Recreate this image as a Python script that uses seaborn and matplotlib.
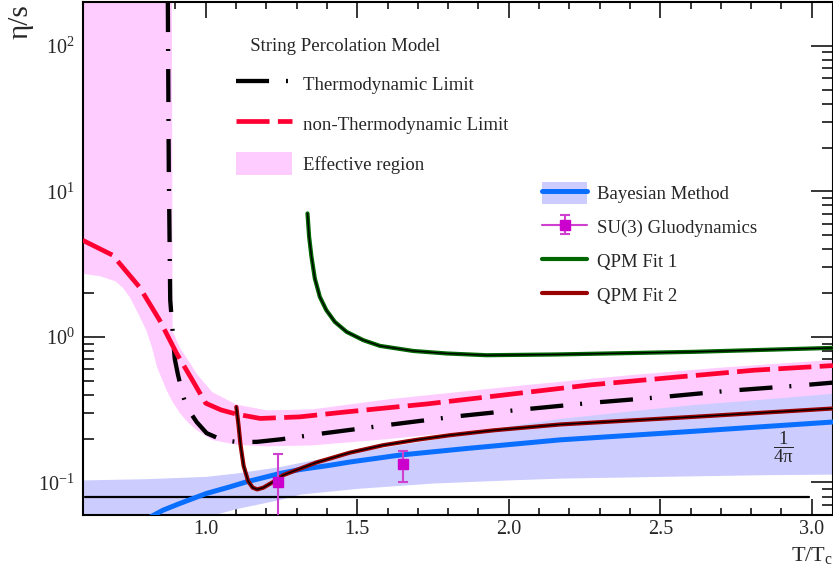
import numpy as np
import pandas as pd
import matplotlib
matplotlib.use('Agg')
import matplotlib.pyplot as plt
import seaborn as sns
from matplotlib.lines import Line2D
from matplotlib.patches import Patch
from matplotlib.ticker import MultipleLocator, FormatStrFormatter, LogLocator, NullFormatter
from matplotlib.legend_handler import HandlerTuple

# ---------------- data ----------------
# String percolation, thermodynamic limit
T_thermo = [0.8745, 0.878, 0.8828, 0.8976, 0.9075, 0.924, 0.937, 0.97, 1.003, 1.056,
            1.11, 1.17, 1.25, 1.386, 1.614, 1.832, 2.053, 2.278, 2.5, 2.724, 2.947, 3.07]
eta_thermo = [300, 15, 1.8, 0.71, 0.56, 0.40, 0.33, 0.26, 0.218, 0.195,
              0.189, 0.19, 0.198, 0.217, 0.25, 0.285, 0.318, 0.353, 0.385, 0.426, 0.461, 0.485]

# String percolation, non-thermodynamic limit
T_nonthermo = [0.594, 0.693, 0.782, 0.848, 0.904, 0.957, 1.0, 1.05, 1.10, 1.18, 1.31,
               1.45, 1.59, 1.73, 1.99, 2.27, 2.54, 2.81, 3.07]
eta_nonthermo = [4.61, 3.64, 2.19, 1.30, 0.77, 0.50, 0.35, 0.315, 0.295, 0.275, 0.282,
                 0.303, 0.324, 0.346, 0.40, 0.468, 0.526, 0.59, 0.635]

# Effective region (band)
T_eff = [0.595, 0.65, 0.70, 0.725, 0.749, 0.776, 0.803, 0.821, 0.838, 0.87, 0.886, 0.889,
         0.914, 0.94, 0.969, 1.02, 1.1, 1.2, 1.35, 1.6, 1.85, 2.1, 2.4, 2.7, 3.07]
eff_lo = [2.73, 2.63, 2.43, 2.19, 1.87, 1.45, 1.11, 0.853, 0.62, 0.43, 0.37, 0.36,
          0.30, 0.26, 0.23, 0.197, 0.183, 0.178, 0.181, 0.20, 0.225, 0.26, 0.30, 0.345, 0.40]
eff_hi = [1000, 1000, 1000, 1000, 1000, 1000, 1000, 1000, 1000, 1000, 1000, 1.1,
          0.84, 0.70, 0.56, 0.42, 0.345, 0.315, 0.32, 0.375, 0.425, 0.48, 0.55, 0.62, 0.70]

# Bayesian method: band and central line
T_bayes = [0.595, 0.8, 1.0, 1.1, 1.24, 1.31, 1.5, 1.75, 2.0, 2.17, 2.4, 2.61, 2.85, 3.07]
bayes_lo = [0.040, 0.046, 0.058, 0.066, 0.076, 0.083, 0.091, 0.099, 0.104, 0.107,
            0.109, 0.111, 0.113, 0.114]
bayes_hi = [0.104, 0.106, 0.110, 0.116, 0.128, 0.137, 0.163, 0.198, 0.245, 0.275,
            0.31, 0.343, 0.375, 0.41]
T_bayes_line = [0.815, 0.859, 0.914, 1.002, 1.079, 1.134, 1.244, 1.31, 1.409, 1.475,
                1.64, 1.861, 2.169, 2.61, 3.07]
eta_bayes_line = [0.0575, 0.0644, 0.0716, 0.0839, 0.0931, 0.1008, 0.115, 0.1225, 0.131,
                  0.138, 0.154, 0.171, 0.196, 0.2245, 0.26]

# SU(3) gluodynamics
T_su3 = [1.24, 1.65]
eta_su3 = [0.100, 0.133]
err_lo_su3 = [0.057, 0.033]
err_hi_su3 = [0.057, 0.032]

# QPM fits
T_qpm1 = [1.3358, 1.3412, 1.349, 1.360, 1.3767, 1.398, 1.426, 1.465, 1.520, 1.575,
          1.685, 1.795, 1.927, 2.158, 2.608, 3.07]
eta_qpm1 = [7.05, 4.87, 3.55, 2.52, 1.88, 1.526, 1.268, 1.082, 0.949, 0.867,
            0.80, 0.769, 0.748, 0.757, 0.789, 0.84]
T_qpm2 = [1.101, 1.108, 1.115, 1.125, 1.14, 1.155, 1.17, 1.19, 1.22, 1.255, 1.31, 1.365,
          1.42, 1.475, 1.585, 1.695, 1.806, 1.95, 2.169, 2.608, 3.07]
eta_qpm2 = [0.33, 0.25, 0.18, 0.13, 0.102, 0.092, 0.0895, 0.092, 0.100, 0.112, 0.124, 0.137,
            0.148, 0.160, 0.180, 0.196, 0.211, 0.228, 0.25, 0.282, 0.322]

# KSS bound 1/(4 pi)
T_kss = [0.6, 2.99]
eta_kss = [1 / (4 * np.pi), 1 / (4 * np.pi)]

# ---------------- style ----------------
sns.set_theme(style='ticks')
plt.rcParams['font.family'] = ['Liberation Serif', 'DejaVu Serif']
plt.rcParams['mathtext.fontset'] = 'custom'
plt.rcParams['mathtext.rm'] = 'Liberation Serif'
plt.rcParams['mathtext.it'] = 'Liberation Serif:italic'
plt.rcParams['mathtext.bf'] = 'Liberation Serif:bold'
plt.rcParams['mathtext.default'] = 'regular'
plt.rcParams['lines.scale_dashes'] = False

PINK = '#FFCCFF'
LBLUE = '#CCCCFF'
BLUE = '#0A6EFF'
RED = '#FF0033'
GREEN = '#006600'
MAROON = '#990000'
MAG = '#CC00CC'
MAG_L = '#D040D0'
FS = 13.5
TFS = 14.5

fig = plt.figure(figsize=(8.33, 5.71), dpi=100)
ax = fig.add_axes([83 / 833, 56 / 571, 750 / 833, 513 / 571])
ax.set_yscale('log')

ax.fill_between(T_eff, eff_lo, eff_hi, color=PINK, lw=0, zorder=1)
ax.fill_between(T_bayes, bayes_lo, bayes_hi, color=LBLUE, lw=0, zorder=2)

sns.lineplot(x=T_kss, y=eta_kss, ax=ax, color='black', lw=1.6, estimator=None, sort=False, zorder=3)
sns.lineplot(x=T_bayes_line, y=eta_bayes_line, ax=ax, color=BLUE, lw=3.6,
             estimator=None, sort=False, zorder=4)
sns.lineplot(x=T_thermo, y=eta_thermo, ax=ax, color='black', lw=3.1,
             linestyle=(0, (23.8, 12.2, 1.4, 13)), estimator=None, sort=False, zorder=5)
sns.lineplot(x=T_nonthermo, y=eta_nonthermo, ax=ax, color=RED, lw=3.4,
             linestyle=(0, (23.8, 6)), estimator=None, sort=False, zorder=5)
sns.lineplot(x=T_qpm1, y=eta_qpm1, ax=ax, color=GREEN, lw=3.0, estimator=None, sort=False, zorder=6)
sns.lineplot(x=T_qpm1, y=eta_qpm1, ax=ax, color='black', lw=1.0, estimator=None, sort=False, zorder=6)
sns.lineplot(x=T_qpm2, y=eta_qpm2, ax=ax, color=MAROON, lw=3.0, estimator=None, sort=False, zorder=6)
sns.lineplot(x=T_qpm2, y=eta_qpm2, ax=ax, color='black', lw=1.0, estimator=None, sort=False, zorder=6)

eb = ax.errorbar(T_su3, eta_su3, yerr=[err_lo_su3, err_hi_su3], fmt='s', color=MAG, ms=7,
                 ecolor=MAG_L, elinewidth=1.5, capsize=3.5, capthick=1.5, zorder=8)

ax.text(2.905, 0.1746, r'$\dfrac{1}{4\pi}$', ha='center', va='center', fontsize=FS, zorder=9)

ax.set_xlim(0.595, 3.07)
ax.set_ylim(0.0597, 200)

# ---------------- ticks / axes ----------------
ax.xaxis.set_major_locator(MultipleLocator(0.5))
ax.xaxis.set_minor_locator(MultipleLocator(0.1))
ax.xaxis.set_major_formatter(FormatStrFormatter('%.1f'))
ax.yaxis.set_major_locator(LogLocator(base=10))
ax.yaxis.set_minor_locator(LogLocator(base=10, subs=range(2, 10)))
ax.yaxis.set_minor_formatter(NullFormatter())

ax.tick_params(axis='x', which='major', direction='in', length=11.5, width=1.1,
               top=True, bottom=True, labelsize=TFS, pad=3.6, color='black')
ax.tick_params(axis='x', which='minor', direction='in', length=5, width=1.1,
               top=True, bottom=True, color='black')
ax.tick_params(axis='y', which='major', direction='in', length=15.8, width=1.1,
               left=True, right=True, labelsize=TFS, pad=5.8, color='black')
ax.tick_params(axis='y', which='minor', direction='in', length=8, width=1.1,
               left=True, right=True, color='black')
for s in ax.spines.values():
    s.set_linewidth(1.5)
    s.set_color('black')

ax.set_xlabel('T/T$_c$', fontsize=16, loc='right')
ax.xaxis.set_label_coords(1.0, -0.058)
ax.set_ylabel('η/s', fontsize=21, loc='top')
ax.yaxis.set_label_coords(-0.066, 0.996)

# ---------------- legends ----------------
h_thermo = Line2D([], [], color='black', lw=3.1, linestyle=(0, (23.8, 12.2, 1.4, 13)))
h_red = Line2D([], [], color=RED, lw=3.4, linestyle=(0, (23.8, 6)))
h_eff = Patch(facecolor=PINK, edgecolor='none')
leg1 = ax.legend([h_thermo, h_red, h_eff],
                 ['Thermodynamic Limit', 'non-Thermodynamic Limit', 'Effective region'],
                 title='   String Percolation Model', loc='upper left',
                 bbox_to_anchor=(0.204, 0.929), frameon=False, fontsize=FS,
                 title_fontsize=FS, handlelength=3.0, handleheight=1.55,
                 handletextpad=0.59, labelspacing=0.88, borderpad=0, borderaxespad=0,
                 alignment='left')
ax.add_artist(leg1)

h_bayes = (Patch(facecolor=LBLUE, edgecolor='none'), Line2D([], [], color=BLUE, lw=3.6))
h_su3 = (Line2D([], [], color=MAG_L, lw=1.5), eb)
h_g = Line2D([], [], color=GREEN, lw=3.0)
h_m = Line2D([], [], color=MAROON, lw=3.0)
leg2 = ax.legend([h_bayes, h_su3, h_g, h_m],
                 ['Bayesian Method', 'SU(3) Gluodynamics', 'QPM Fit 1', 'QPM Fit 2'],
                 handler_map={tuple: HandlerTuple(ndivide=1, pad=0)},
                 loc='upper left', bbox_to_anchor=(0.612, 0.649), frameon=False,
                 fontsize=FS, handlelength=2.4, handleheight=1.4, handletextpad=0.53,
                 labelspacing=0.66, borderpad=0, borderaxespad=0)

fig.savefig('out.png', dpi=100)
